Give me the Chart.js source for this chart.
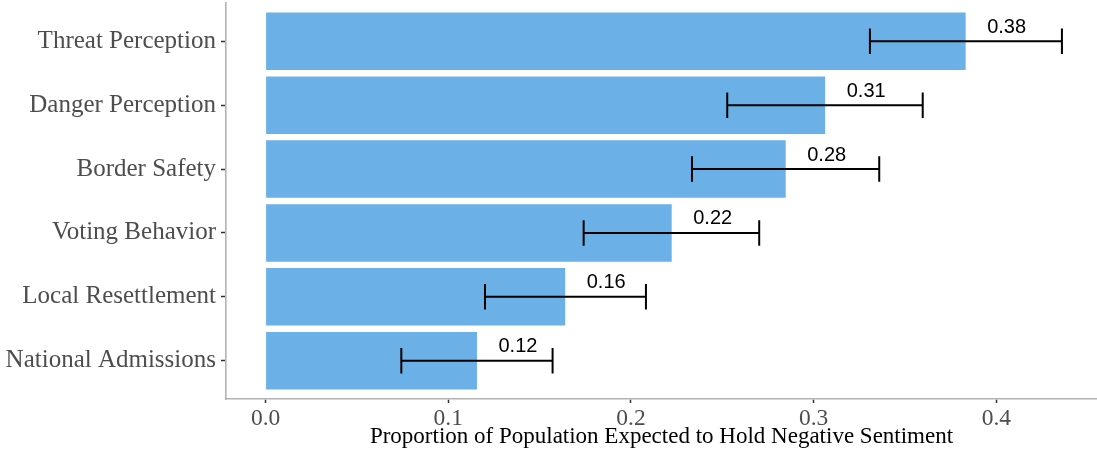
<!DOCTYPE html>
<html>
<head>
<meta charset="utf-8">
<script src="https://cdn.jsdelivr.net/npm/chart.js@4.4.1/dist/chart.umd.min.js"></script>
<style>
  html, body { margin: 0; padding: 0; background: #ffffff; }
  #wrap { width: 1097px; height: 454px; position: relative; }
</style>
</head>
<body>
<div id="wrap"><canvas id="chart"></canvas></div>
<script>
// Categories from bottom (position 1) to top (position 6)
const categories = [
  'National Admissions',
  'Local Resettlement',
  'Voting Behavior',
  'Border Safety',
  'Danger Perception',
  'Threat Perception'
];
// Estimated proportion holding negative sentiment
const proportion = [0.1157, 0.1640, 0.2223, 0.2847, 0.3063, 0.3832];
// Interval bounds drawn as error bars
const lowerBound = [0.0743, 0.1201, 0.1741, 0.2334, 0.2527, 0.3308];
const upperBound = [0.1571, 0.2082, 0.2702, 0.3359, 0.3597, 0.4359];
// Axis ticks
const xTicks = [0, 0.1, 0.2, 0.3, 0.4];
const xTickLabels = ['0.0', '0.1', '0.2', '0.3', '0.4'];
const yPositions = [1, 2, 3, 4, 5, 6];

const SERIF = "'Liberation Serif', 'Times New Roman', serif";
const SANS = "'Liberation Sans', Arial, sans-serif";

// Error bars and value labels drawn on top of the bars
const errorBarPlugin = {
  id: 'errorBars',
  afterDatasetsDraw(chart) {
    const ctx = chart.ctx;
    const xs = chart.scales.x;
    const ys = chart.scales.y;
    const capHalf = Math.abs(ys.getPixelForValue(1) - ys.getPixelForValue(1.2));
    ctx.save();
    ctx.strokeStyle = '#000000';
    ctx.lineWidth = 2;
    ctx.lineCap = 'butt';
    for (let i = 0; i < categories.length; i++) {
      const yc = ys.getPixelForValue(yPositions[i]);
      const x0 = xs.getPixelForValue(lowerBound[i]);
      const x1 = xs.getPixelForValue(upperBound[i]);
      ctx.beginPath();
      ctx.moveTo(x0, yc); ctx.lineTo(x1, yc);
      ctx.moveTo(x0, yc - capHalf); ctx.lineTo(x0, yc + capHalf);
      ctx.moveTo(x1, yc - capHalf); ctx.lineTo(x1, yc + capHalf);
      ctx.stroke();
    }
    ctx.fillStyle = '#000000';
    ctx.font = '20px ' + SANS;
    ctx.textAlign = 'center';
    ctx.textBaseline = 'middle';
    for (let i = 0; i < categories.length; i++) {
      const yc = ys.getPixelForValue(yPositions[i]);
      const xv = xs.getPixelForValue(proportion[i]);
      ctx.fillText(proportion[i].toFixed(2), xv + 41, yc - 14);
    }
    ctx.restore();
  }
};

new Chart(document.getElementById('chart'), {
  type: 'bar',
  data: {
    datasets: [{
      data: proportion.map((v, i) => ({ x: v, y: yPositions[i] })),
      backgroundColor: '#6BB1E7',
      borderWidth: 0,
      barPercentage: 0.9,
      categoryPercentage: 1.0
    }]
  },
  options: {
    indexAxis: 'y',
    responsive: true,
    maintainAspectRatio: false,
    animation: false,
    layout: { padding: { top: 3, right: 0, bottom: 0, left: 0 } },
    plugins: {
      legend: { display: false },
      tooltip: { enabled: false }
    },
    scales: {
      x: {
        type: 'linear',
        min: -0.02167,
        max: 0.4551,
        afterBuildTicks(scale) { scale.ticks = xTicks.map(v => ({ value: v })); },
        afterFit(scale) { scale.height = 55; scale.paddingLeft = 0; scale.paddingRight = 0; },
        ticks: {
          autoSkip: false,
          maxRotation: 0,
          padding: 2,
          color: '#4D4D4D',
          font: { family: SERIF, size: 23.5 },
          callback: (v) => xTickLabels[xTicks.indexOf(v)]
        },
        grid: {
          drawOnChartArea: false,
          drawTicks: true,
          tickLength: 4,
          tickWidth: 1.5,
          tickColor: '#333333'
        },
        border: { display: true, color: '#B3B3B3', width: 1.6 },
        title: {
          display: true,
          text: 'Proportion of Population Expected to Hold Negative Sentiment',
          color: '#000000',
          font: { family: SERIF, size: 23 },
          padding: { top: 0, bottom: 3 }
        }
      },
      y: {
        type: 'linear',
        offset: false,
        min: 0.4,
        max: 6.6,
        afterBuildTicks(scale) { scale.ticks = yPositions.map(v => ({ value: v })); },
        afterFit(scale) { scale.width = 226; scale.paddingTop = 0; scale.paddingBottom = 0; },
        ticks: {
          autoSkip: false,
          padding: 5,
          color: '#4D4D4D',
          font: { family: SERIF, size: 25 },
          callback: (v) => categories[yPositions.indexOf(v)]
        },
        grid: {
          offset: false,
          drawOnChartArea: false,
          drawTicks: true,
          tickLength: 5,
          tickWidth: 1.5,
          tickColor: '#333333'
        },
        border: { display: true, color: '#B3B3B3', width: 1.6 }
      }
    }
  },
  plugins: [errorBarPlugin]
});
</script>
</body>
</html>
